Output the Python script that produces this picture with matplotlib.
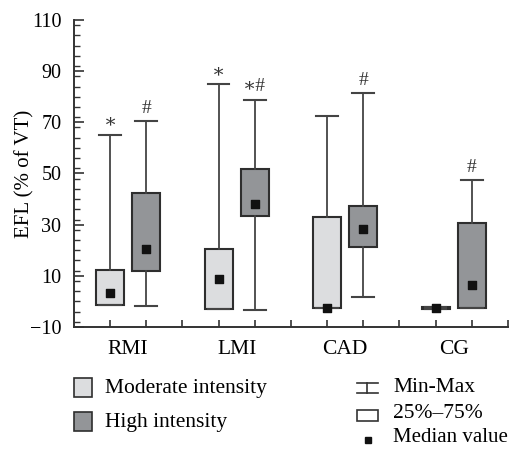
import matplotlib
matplotlib.use("Agg")
import matplotlib.pyplot as plt
from matplotlib.lines import Line2D
from matplotlib.patches import Rectangle
from matplotlib.ticker import MultipleLocator

plt.rcParams['font.family'] = ['Liberation Serif', 'DejaVu Serif']

groups = ["RMI", "LMI", "CAD", "CG"]
series = ["Moderate intensity", "High intensity"]
# per group: [moderate, high]
mins    = [[-1.5, -1.6], [-3.0, -3.3], [-2.5, 1.9], [-3.0, -2.5]]
q1s     = [[-1.5, 12.0], [-2.9, 33.4], [-2.4, 21.2], [-3.0, -2.4]]
medians = [[3.2, 20.4], [8.7, 38.0], [-2.6, 28.2], [-2.6, 6.4]]
q3s     = [[12.1, 42.3], [20.3, 51.7], [32.9, 37.3], [-2.2, 30.6]]
maxs    = [[65.1, 70.5], [84.9, 78.9], [72.4, 81.5], [-2.2, 47.5]]
marks   = [["\u2217", "#"], ["\u2217", "\u2217#"], ["", "#"], ["", "#"]]

colors = ["#dcdddf", "#939598"]
edge = "#2e2e2e"

fig = plt.figure(figsize=(5.11, 4.5), dpi=100)
ax = fig.add_axes([0.1448, 0.2733, 0.8492, 0.6823])

stats = []
positions = []
facecols = []
for g in range(len(groups)):
    for s in range(2):
        stats.append(dict(med=medians[g][s], q1=q1s[g][s], q3=q3s[g][s],
                          whislo=mins[g][s], whishi=maxs[g][s], fliers=[]))
        positions.append(3 * g + 1 + s)
        facecols.append(colors[s])

bp = ax.bxp(stats, positions=positions, widths=0.78, capwidths=0.6,
            patch_artist=True, showfliers=False,
            boxprops=dict(edgecolor=edge, linewidth=1.5),
            whiskerprops=dict(color="#444444", linewidth=1.3),
            capprops=dict(color="#444444", linewidth=1.5),
            medianprops=dict(linestyle="none"), zorder=2)
for patch, fc in zip(bp["boxes"], facecols):
    patch.set_facecolor(fc)

ax.scatter(positions, [m for g in medians for m in g], marker="s", s=30,
           color="#111111", zorder=4)

flat_max = [m for g in maxs for m in g]
flat_marks = [m for g in marks for m in g]
for x, ymax, t in zip(positions, flat_max, flat_marks):
    if t:
        ax.annotate(t, (x, ymax), xytext=(0, 6), textcoords="offset points",
                    ha="center", va="baseline", fontsize=14, color="#333333")

ax.set_xlim(0, 12)
ax.set_ylim(-10, 110)
ax.set_xticks(range(1, 13))
ax.set_xticklabels([])
ax.set_xticks([1.5, 4.5, 7.5, 10.5], minor=True)
ax.set_xticklabels(groups, minor=True)
ax.tick_params(axis="x", which="major", direction="in", length=5,
               width=1.2, color="#333333")
ax.tick_params(axis="x", which="minor", length=0, pad=9, labelsize=15.5)
ax.set_yticks([-10, 10, 30, 50, 70, 90, 110])
ax.set_yticklabels(["\u221210", "10", "30", "50", "70", "90", "110"])
ax.yaxis.set_minor_locator(MultipleLocator(4))
ax.tick_params(axis="y", which="major", direction="in", length=7,
               width=1.2, labelsize=14.5, color="#333333", pad=9)
ax.tick_params(axis="y", which="minor", direction="in", length=4,
               width=1.0, color="#333333")
ax.spines["top"].set_visible(False)
ax.spines["right"].set_visible(False)
for sp in ("left", "bottom"):
    ax.spines[sp].set_linewidth(1.4)
    ax.spines[sp].set_color("#333333")
ax.set_ylabel("EFL (% of VT)", fontsize=15, labelpad=-3)

# legend (left)
def px(x, y):
    return x / 511, 1 - y / 450

for i, (lab, fc) in enumerate(zip(series, colors)):
    y0 = 378 + i * 34
    x0, y0f = px(74, y0 + 19)
    fig.add_artist(Rectangle((x0, y0f), 18 / 511, 19 / 450, transform=fig.transFigure,
                             facecolor=fc, edgecolor=edge, linewidth=1.2))
    tx, ty = px(105, y0 + 10)
    fig.text(tx, ty, lab, fontsize=15.5, va="center", ha="left")

# legend (right)
cx = 367
ya, yb = 383, 393
fig.add_artist(Line2D([px(cx, 0)[0]] * 2, [px(0, ya)[1], px(0, yb)[1]],
                      transform=fig.transFigure, color="#333333", lw=1.2))
for yy in (ya, yb):
    fig.add_artist(Line2D([px(357, 0)[0], px(378, 0)[0]], [px(0, yy)[1]] * 2,
                          transform=fig.transFigure, color="#333333", lw=1.2))
fig.text(*px(393, 387), "Min-Max", fontsize=15.5, va="center", ha="left")
x0, y0f = px(357, 421)
fig.add_artist(Rectangle((x0, y0f), 21 / 511, 11 / 450, transform=fig.transFigure,
                         facecolor="white", edgecolor="#333333", linewidth=1.2))
fig.text(*px(393, 413), "25%\u201375%", fontsize=15.5, va="center", ha="left")
fig.add_artist(Line2D([px(368, 0)[0]], [px(0, 440)[1]], transform=fig.transFigure,
                      marker="s", markersize=5, color="#111111", linestyle="none"))
fig.text(*px(393, 438), "Median value", fontsize=15, va="center", ha="left")

fig.savefig("out.png", dpi=100)
